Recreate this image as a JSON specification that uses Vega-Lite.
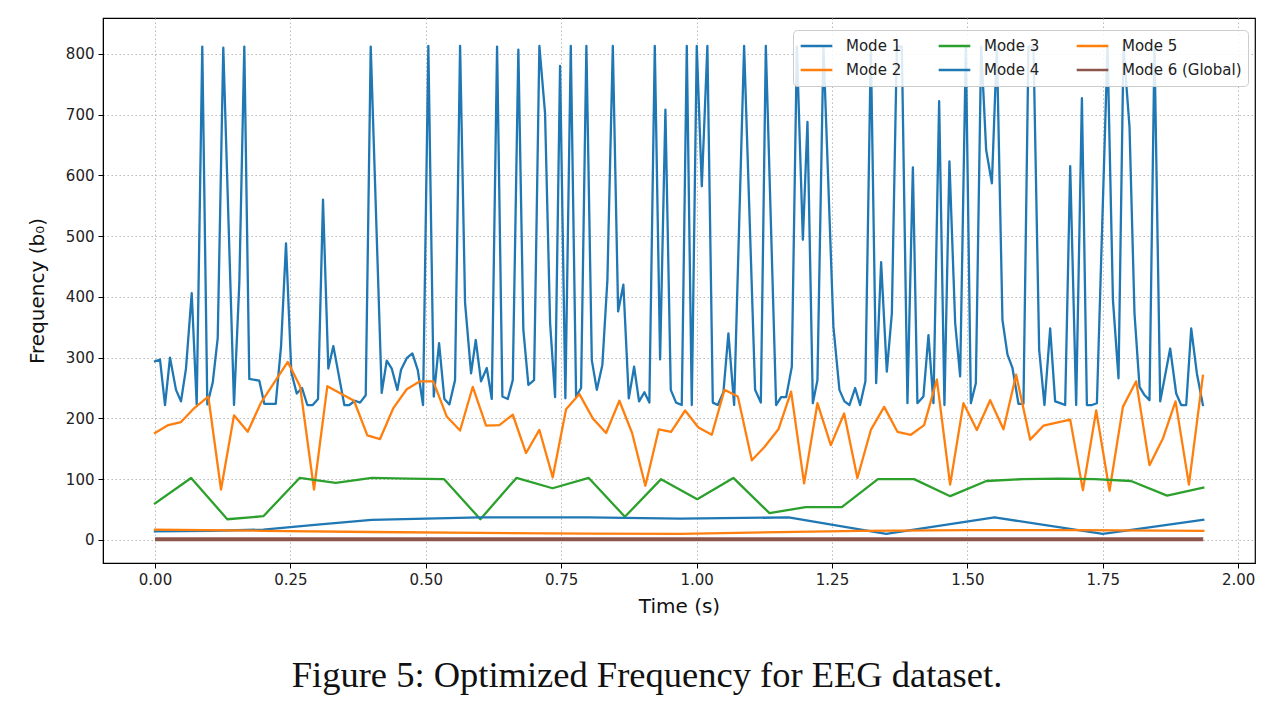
{
  "$schema": "https://vega.github.io/schema/vega-lite/v6.json",
  "width": 1152,
  "height": 545,
  "autosize": {"type": "none"},
  "padding": {"left": 103, "top": 18, "right": 22, "bottom": 142},
  "background": "white",
  "title": {
    "text": "Figure 5: Optimized Frequency for EEG dataset.",
    "orient": "bottom",
    "anchor": "middle",
    "frame": "group",
    "dx": -32,
    "offset": 42,
    "font": "Liberation Serif",
    "fontSize": 36.5,
    "fontWeight": "normal",
    "color": "#111111"
  },
  "config": {
    "view": {"stroke": "#000000", "strokeWidth": 1.2},
    "axis": {
      "labelFont": "DejaVu Sans",
      "labelFontSize": 15,
      "labelColor": "#222222",
      "titleFont": "DejaVu Sans",
      "titleFontSize": 20,
      "titleFontWeight": "normal",
      "titleColor": "#111111",
      "domainColor": "#000000",
      "tickColor": "#000000",
      "tickSize": 5,
      "labelPadding": 4,
      "gridColor": "#bbbbbb",
      "gridDash": [1.5, 2.5],
      "gridWidth": 1
    },
    "legend": {
      "orient": "none",
      "legendX": 690,
      "legendY": 12,
      "direction": "horizontal",
      "columns": 3,
      "fillColor": "rgba(255,255,255,0.85)",
      "strokeColor": "#cccccc",
      "cornerRadius": 4,
      "padding": 6,
      "labelFont": "DejaVu Sans",
      "labelFontSize": 15,
      "labelColor": "#222222",
      "labelOffset": 12,
      "symbolType": "stroke",
      "symbolSize": 1000,
      "symbolStrokeWidth": 2.4,
      "columnPadding": 35,
      "rowPadding": 4,
      "clipHeight": 20
    }
  },
  "data": {
    "values": [
      {"m": "Mode 1", "t": 0.0, "f": 294},
      {"m": "Mode 1", "t": 0.0092, "f": 297},
      {"m": "Mode 1", "t": 0.0185, "f": 222},
      {"m": "Mode 1", "t": 0.0277, "f": 300},
      {"m": "Mode 1", "t": 0.0388, "f": 247},
      {"m": "Mode 1", "t": 0.048, "f": 228},
      {"m": "Mode 1", "t": 0.0572, "f": 282},
      {"m": "Mode 1", "t": 0.0678, "f": 406},
      {"m": "Mode 1", "t": 0.077, "f": 223},
      {"m": "Mode 1", "t": 0.0873, "f": 812},
      {"m": "Mode 1", "t": 0.0966, "f": 223},
      {"m": "Mode 1", "t": 0.1066, "f": 259},
      {"m": "Mode 1", "t": 0.1158, "f": 332},
      {"m": "Mode 1", "t": 0.1261, "f": 810},
      {"m": "Mode 1", "t": 0.1459, "f": 222},
      {"m": "Mode 1", "t": 0.1557, "f": 423},
      {"m": "Mode 1", "t": 0.1649, "f": 812},
      {"m": "Mode 1", "t": 0.1741, "f": 265},
      {"m": "Mode 1", "t": 0.1926, "f": 262},
      {"m": "Mode 1", "t": 0.2018, "f": 224},
      {"m": "Mode 1", "t": 0.2229, "f": 224},
      {"m": "Mode 1", "t": 0.2327, "f": 318},
      {"m": "Mode 1", "t": 0.2419, "f": 488},
      {"m": "Mode 1", "t": 0.2517, "f": 276},
      {"m": "Mode 1", "t": 0.2617, "f": 241},
      {"m": "Mode 1", "t": 0.2715, "f": 250},
      {"m": "Mode 1", "t": 0.2813, "f": 222},
      {"m": "Mode 1", "t": 0.2912, "f": 222},
      {"m": "Mode 1", "t": 0.301, "f": 232},
      {"m": "Mode 1", "t": 0.3102, "f": 560},
      {"m": "Mode 1", "t": 0.32, "f": 282},
      {"m": "Mode 1", "t": 0.3293, "f": 319},
      {"m": "Mode 1", "t": 0.3496, "f": 222},
      {"m": "Mode 1", "t": 0.3588, "f": 222},
      {"m": "Mode 1", "t": 0.3693, "f": 229},
      {"m": "Mode 1", "t": 0.3786, "f": 226},
      {"m": "Mode 1", "t": 0.3891, "f": 238},
      {"m": "Mode 1", "t": 0.3983, "f": 812},
      {"m": "Mode 1", "t": 0.4186, "f": 242},
      {"m": "Mode 1", "t": 0.4279, "f": 295},
      {"m": "Mode 1", "t": 0.4371, "f": 282},
      {"m": "Mode 1", "t": 0.4475, "f": 247},
      {"m": "Mode 1", "t": 0.4543, "f": 280},
      {"m": "Mode 1", "t": 0.4648, "f": 299},
      {"m": "Mode 1", "t": 0.4752, "f": 307},
      {"m": "Mode 1", "t": 0.4851, "f": 280},
      {"m": "Mode 1", "t": 0.4949, "f": 222},
      {"m": "Mode 1", "t": 0.5047, "f": 813},
      {"m": "Mode 1", "t": 0.5147, "f": 236},
      {"m": "Mode 1", "t": 0.5245, "f": 324},
      {"m": "Mode 1", "t": 0.5343, "f": 232},
      {"m": "Mode 1", "t": 0.5435, "f": 223},
      {"m": "Mode 1", "t": 0.554, "f": 263},
      {"m": "Mode 1", "t": 0.5633, "f": 813},
      {"m": "Mode 1", "t": 0.5725, "f": 390},
      {"m": "Mode 1", "t": 0.5836, "f": 274},
      {"m": "Mode 1", "t": 0.5922, "f": 329},
      {"m": "Mode 1", "t": 0.602, "f": 261},
      {"m": "Mode 1", "t": 0.6126, "f": 283},
      {"m": "Mode 1", "t": 0.6218, "f": 232},
      {"m": "Mode 1", "t": 0.6316, "f": 812},
      {"m": "Mode 1", "t": 0.6414, "f": 236},
      {"m": "Mode 1", "t": 0.6513, "f": 232},
      {"m": "Mode 1", "t": 0.6606, "f": 263},
      {"m": "Mode 1", "t": 0.6709, "f": 807},
      {"m": "Mode 1", "t": 0.6801, "f": 346},
      {"m": "Mode 1", "t": 0.6894, "f": 255},
      {"m": "Mode 1", "t": 0.6999, "f": 263},
      {"m": "Mode 1", "t": 0.7097, "f": 813},
      {"m": "Mode 1", "t": 0.7202, "f": 702},
      {"m": "Mode 1", "t": 0.7295, "f": 357},
      {"m": "Mode 1", "t": 0.7387, "f": 235},
      {"m": "Mode 1", "t": 0.7479, "f": 780},
      {"m": "Mode 1", "t": 0.7577, "f": 233},
      {"m": "Mode 1", "t": 0.7677, "f": 813},
      {"m": "Mode 1", "t": 0.7775, "f": 236},
      {"m": "Mode 1", "t": 0.7867, "f": 250},
      {"m": "Mode 1", "t": 0.7965, "f": 813},
      {"m": "Mode 1", "t": 0.8065, "f": 296},
      {"m": "Mode 1", "t": 0.8158, "f": 247},
      {"m": "Mode 1", "t": 0.826, "f": 288},
      {"m": "Mode 1", "t": 0.8353, "f": 428},
      {"m": "Mode 1", "t": 0.8453, "f": 813},
      {"m": "Mode 1", "t": 0.8551, "f": 376},
      {"m": "Mode 1", "t": 0.8648, "f": 420},
      {"m": "Mode 1", "t": 0.8748, "f": 233},
      {"m": "Mode 1", "t": 0.8846, "f": 285},
      {"m": "Mode 1", "t": 0.8938, "f": 228},
      {"m": "Mode 1", "t": 0.9036, "f": 243},
      {"m": "Mode 1", "t": 0.9128, "f": 226},
      {"m": "Mode 1", "t": 0.9228, "f": 813},
      {"m": "Mode 1", "t": 0.9326, "f": 297},
      {"m": "Mode 1", "t": 0.9424, "f": 708},
      {"m": "Mode 1", "t": 0.9523, "f": 247},
      {"m": "Mode 1", "t": 0.9621, "f": 226},
      {"m": "Mode 1", "t": 0.9726, "f": 222},
      {"m": "Mode 1", "t": 0.9819, "f": 813},
      {"m": "Mode 1", "t": 0.9911, "f": 222},
      {"m": "Mode 1", "t": 1.0003, "f": 813},
      {"m": "Mode 1", "t": 1.0096, "f": 582},
      {"m": "Mode 1", "t": 1.0199, "f": 813},
      {"m": "Mode 1", "t": 1.0299, "f": 226},
      {"m": "Mode 1", "t": 1.0391, "f": 222},
      {"m": "Mode 1", "t": 1.0495, "f": 243},
      {"m": "Mode 1", "t": 1.0587, "f": 340},
      {"m": "Mode 1", "t": 1.0693, "f": 222},
      {"m": "Mode 1", "t": 1.0877, "f": 813},
      {"m": "Mode 1", "t": 1.108, "f": 247},
      {"m": "Mode 1", "t": 1.1186, "f": 226},
      {"m": "Mode 1", "t": 1.1278, "f": 813},
      {"m": "Mode 1", "t": 1.1468, "f": 222},
      {"m": "Mode 1", "t": 1.156, "f": 235},
      {"m": "Mode 1", "t": 1.1653, "f": 235},
      {"m": "Mode 1", "t": 1.1758, "f": 285},
      {"m": "Mode 1", "t": 1.1851, "f": 812},
      {"m": "Mode 1", "t": 1.1962, "f": 494},
      {"m": "Mode 1", "t": 1.2047, "f": 688},
      {"m": "Mode 1", "t": 1.2146, "f": 225},
      {"m": "Mode 1", "t": 1.2231, "f": 263},
      {"m": "Mode 1", "t": 1.2342, "f": 812},
      {"m": "Mode 1", "t": 1.2526, "f": 351},
      {"m": "Mode 1", "t": 1.2637, "f": 247},
      {"m": "Mode 1", "t": 1.273, "f": 228},
      {"m": "Mode 1", "t": 1.2822, "f": 222},
      {"m": "Mode 1", "t": 1.2927, "f": 250},
      {"m": "Mode 1", "t": 1.3019, "f": 222},
      {"m": "Mode 1", "t": 1.3117, "f": 261},
      {"m": "Mode 1", "t": 1.3217, "f": 812},
      {"m": "Mode 1", "t": 1.3315, "f": 258},
      {"m": "Mode 1", "t": 1.3407, "f": 457},
      {"m": "Mode 1", "t": 1.3512, "f": 277},
      {"m": "Mode 1", "t": 1.3605, "f": 373},
      {"m": "Mode 1", "t": 1.3697, "f": 812},
      {"m": "Mode 1", "t": 1.3789, "f": 812},
      {"m": "Mode 1", "t": 1.3893, "f": 225},
      {"m": "Mode 1", "t": 1.3993, "f": 613},
      {"m": "Mode 1", "t": 1.4077, "f": 225},
      {"m": "Mode 1", "t": 1.4188, "f": 236},
      {"m": "Mode 1", "t": 1.4281, "f": 337},
      {"m": "Mode 1", "t": 1.4373, "f": 225},
      {"m": "Mode 1", "t": 1.4478, "f": 722},
      {"m": "Mode 1", "t": 1.4576, "f": 222},
      {"m": "Mode 1", "t": 1.4668, "f": 623},
      {"m": "Mode 1", "t": 1.4774, "f": 357},
      {"m": "Mode 1", "t": 1.4866, "f": 269},
      {"m": "Mode 1", "t": 1.4971, "f": 812},
      {"m": "Mode 1", "t": 1.5064, "f": 225},
      {"m": "Mode 1", "t": 1.5156, "f": 258},
      {"m": "Mode 1", "t": 1.5254, "f": 812},
      {"m": "Mode 1", "t": 1.5346, "f": 642},
      {"m": "Mode 1", "t": 1.5452, "f": 587},
      {"m": "Mode 1", "t": 1.5544, "f": 812},
      {"m": "Mode 1", "t": 1.5647, "f": 362},
      {"m": "Mode 1", "t": 1.574, "f": 305},
      {"m": "Mode 1", "t": 1.5832, "f": 283},
      {"m": "Mode 1", "t": 1.5943, "f": 224},
      {"m": "Mode 1", "t": 1.6035, "f": 224},
      {"m": "Mode 1", "t": 1.6127, "f": 812},
      {"m": "Mode 1", "t": 1.622, "f": 812},
      {"m": "Mode 1", "t": 1.6325, "f": 313},
      {"m": "Mode 1", "t": 1.6423, "f": 222},
      {"m": "Mode 1", "t": 1.6528, "f": 348},
      {"m": "Mode 1", "t": 1.662, "f": 228},
      {"m": "Mode 1", "t": 1.6713, "f": 225},
      {"m": "Mode 1", "t": 1.6805, "f": 222},
      {"m": "Mode 1", "t": 1.6898, "f": 615},
      {"m": "Mode 1", "t": 1.7008, "f": 222},
      {"m": "Mode 1", "t": 1.7114, "f": 727},
      {"m": "Mode 1", "t": 1.7206, "f": 222},
      {"m": "Mode 1", "t": 1.7299, "f": 222},
      {"m": "Mode 1", "t": 1.7391, "f": 225},
      {"m": "Mode 1", "t": 1.7587, "f": 812},
      {"m": "Mode 1", "t": 1.7687, "f": 395},
      {"m": "Mode 1", "t": 1.779, "f": 266},
      {"m": "Mode 1", "t": 1.7882, "f": 812},
      {"m": "Mode 1", "t": 1.7993, "f": 680},
      {"m": "Mode 1", "t": 1.8085, "f": 373},
      {"m": "Mode 1", "t": 1.8178, "f": 252},
      {"m": "Mode 1", "t": 1.8264, "f": 239},
      {"m": "Mode 1", "t": 1.8362, "f": 230},
      {"m": "Mode 1", "t": 1.8454, "f": 812},
      {"m": "Mode 1", "t": 1.856, "f": 228},
      {"m": "Mode 1", "t": 1.8744, "f": 315},
      {"m": "Mode 1", "t": 1.8855, "f": 241},
      {"m": "Mode 1", "t": 1.8947, "f": 222},
      {"m": "Mode 1", "t": 1.904, "f": 222},
      {"m": "Mode 1", "t": 1.9132, "f": 348},
      {"m": "Mode 1", "t": 1.9237, "f": 274},
      {"m": "Mode 1", "t": 1.9348, "f": 222},

      {"m": "Mode 2", "t": 0.0, "f": 176},
      {"m": "Mode 2", "t": 0.0246, "f": 189},
      {"m": "Mode 2", "t": 0.048, "f": 194},
      {"m": "Mode 2", "t": 0.0726, "f": 217},
      {"m": "Mode 2", "t": 0.0984, "f": 236},
      {"m": "Mode 2", "t": 0.1219, "f": 83},
      {"m": "Mode 2", "t": 0.1459, "f": 205},
      {"m": "Mode 2", "t": 0.1712, "f": 178},
      {"m": "Mode 2", "t": 0.1958, "f": 226},
      {"m": "Mode 2", "t": 0.2451, "f": 293},
      {"m": "Mode 2", "t": 0.2678, "f": 253},
      {"m": "Mode 2", "t": 0.2936, "f": 83},
      {"m": "Mode 2", "t": 0.3182, "f": 253},
      {"m": "Mode 2", "t": 0.3675, "f": 229},
      {"m": "Mode 2", "t": 0.3921, "f": 172},
      {"m": "Mode 2", "t": 0.4155, "f": 166},
      {"m": "Mode 2", "t": 0.4401, "f": 217},
      {"m": "Mode 2", "t": 0.4648, "f": 248},
      {"m": "Mode 2", "t": 0.4894, "f": 261},
      {"m": "Mode 2", "t": 0.5139, "f": 261},
      {"m": "Mode 2", "t": 0.5387, "f": 203},
      {"m": "Mode 2", "t": 0.5633, "f": 180},
      {"m": "Mode 2", "t": 0.5867, "f": 252},
      {"m": "Mode 2", "t": 0.6113, "f": 188},
      {"m": "Mode 2", "t": 0.6358, "f": 189},
      {"m": "Mode 2", "t": 0.6606, "f": 206},
      {"m": "Mode 2", "t": 0.6851, "f": 143},
      {"m": "Mode 2", "t": 0.7097, "f": 181},
      {"m": "Mode 2", "t": 0.7344, "f": 103},
      {"m": "Mode 2", "t": 0.759, "f": 215},
      {"m": "Mode 2", "t": 0.7836, "f": 240},
      {"m": "Mode 2", "t": 0.8083, "f": 200},
      {"m": "Mode 2", "t": 0.8329, "f": 176},
      {"m": "Mode 2", "t": 0.8574, "f": 229},
      {"m": "Mode 2", "t": 0.8809, "f": 176},
      {"m": "Mode 2", "t": 0.9054, "f": 89},
      {"m": "Mode 2", "t": 0.9302, "f": 182},
      {"m": "Mode 2", "t": 0.9529, "f": 178},
      {"m": "Mode 2", "t": 0.9788, "f": 213},
      {"m": "Mode 2", "t": 1.0033, "f": 185},
      {"m": "Mode 2", "t": 1.0281, "f": 173},
      {"m": "Mode 2", "t": 1.0514, "f": 247},
      {"m": "Mode 2", "t": 1.0761, "f": 236},
      {"m": "Mode 2", "t": 1.102, "f": 131},
      {"m": "Mode 2", "t": 1.1252, "f": 153},
      {"m": "Mode 2", "t": 1.1511, "f": 182},
      {"m": "Mode 2", "t": 1.1745, "f": 244},
      {"m": "Mode 2", "t": 1.1985, "f": 93},
      {"m": "Mode 2", "t": 1.2231, "f": 225},
      {"m": "Mode 2", "t": 1.2478, "f": 156},
      {"m": "Mode 2", "t": 1.2724, "f": 208},
      {"m": "Mode 2", "t": 1.2969, "f": 102},
      {"m": "Mode 2", "t": 1.3217, "f": 181},
      {"m": "Mode 2", "t": 1.3463, "f": 219},
      {"m": "Mode 2", "t": 1.3708, "f": 178},
      {"m": "Mode 2", "t": 1.3956, "f": 173},
      {"m": "Mode 2", "t": 1.4201, "f": 189},
      {"m": "Mode 2", "t": 1.4436, "f": 264},
      {"m": "Mode 2", "t": 1.4681, "f": 91},
      {"m": "Mode 2", "t": 1.4927, "f": 225},
      {"m": "Mode 2", "t": 1.5175, "f": 181},
      {"m": "Mode 2", "t": 1.542, "f": 230},
      {"m": "Mode 2", "t": 1.5666, "f": 182},
      {"m": "Mode 2", "t": 1.59, "f": 272},
      {"m": "Mode 2", "t": 1.6159, "f": 165},
      {"m": "Mode 2", "t": 1.6404, "f": 188},
      {"m": "Mode 2", "t": 1.6651, "f": 193},
      {"m": "Mode 2", "t": 1.6898, "f": 198},
      {"m": "Mode 2", "t": 1.7132, "f": 82},
      {"m": "Mode 2", "t": 1.7378, "f": 213},
      {"m": "Mode 2", "t": 1.7624, "f": 81},
      {"m": "Mode 2", "t": 1.7871, "f": 219},
      {"m": "Mode 2", "t": 1.8116, "f": 261},
      {"m": "Mode 2", "t": 1.8362, "f": 123},
      {"m": "Mode 2", "t": 1.861, "f": 167},
      {"m": "Mode 2", "t": 1.8843, "f": 228},
      {"m": "Mode 2", "t": 1.909, "f": 91},
      {"m": "Mode 2", "t": 1.9348, "f": 270},

      {"m": "Mode 3", "t": 0.0, "f": 60},
      {"m": "Mode 3", "t": 0.0667, "f": 102},
      {"m": "Mode 3", "t": 0.1335, "f": 34},
      {"m": "Mode 3", "t": 0.2002, "f": 39},
      {"m": "Mode 3", "t": 0.267, "f": 102},
      {"m": "Mode 3", "t": 0.3337, "f": 94},
      {"m": "Mode 3", "t": 0.4004, "f": 102},
      {"m": "Mode 3", "t": 0.4672, "f": 101},
      {"m": "Mode 3", "t": 0.5339, "f": 100},
      {"m": "Mode 3", "t": 0.6007, "f": 34},
      {"m": "Mode 3", "t": 0.6674, "f": 102},
      {"m": "Mode 3", "t": 0.7341, "f": 85},
      {"m": "Mode 3", "t": 0.8009, "f": 102},
      {"m": "Mode 3", "t": 0.8676, "f": 38},
      {"m": "Mode 3", "t": 0.9344, "f": 100},
      {"m": "Mode 3", "t": 1.0011, "f": 67},
      {"m": "Mode 3", "t": 1.0678, "f": 102},
      {"m": "Mode 3", "t": 1.1346, "f": 44},
      {"m": "Mode 3", "t": 1.2013, "f": 54},
      {"m": "Mode 3", "t": 1.2681, "f": 54},
      {"m": "Mode 3", "t": 1.3348, "f": 100},
      {"m": "Mode 3", "t": 1.4015, "f": 100},
      {"m": "Mode 3", "t": 1.4683, "f": 72},
      {"m": "Mode 3", "t": 1.535, "f": 97},
      {"m": "Mode 3", "t": 1.6018, "f": 100},
      {"m": "Mode 3", "t": 1.6685, "f": 101},
      {"m": "Mode 3", "t": 1.7352, "f": 100},
      {"m": "Mode 3", "t": 1.802, "f": 97},
      {"m": "Mode 3", "t": 1.8687, "f": 73},
      {"m": "Mode 3", "t": 1.9355, "f": 86},

      {"m": "Mode 4", "t": 0.0, "f": 14},
      {"m": "Mode 4", "t": 0.1, "f": 15},
      {"m": "Mode 4", "t": 0.2, "f": 17},
      {"m": "Mode 4", "t": 0.3, "f": 25},
      {"m": "Mode 4", "t": 0.4, "f": 33},
      {"m": "Mode 4", "t": 0.6, "f": 37},
      {"m": "Mode 4", "t": 0.8, "f": 37},
      {"m": "Mode 4", "t": 0.97, "f": 35},
      {"m": "Mode 4", "t": 1.17, "f": 37},
      {"m": "Mode 4", "t": 1.35, "f": 10},
      {"m": "Mode 4", "t": 1.55, "f": 37},
      {"m": "Mode 4", "t": 1.75, "f": 10},
      {"m": "Mode 4", "t": 1.9355, "f": 33},

      {"m": "Mode 5", "t": 0.0, "f": 17},
      {"m": "Mode 5", "t": 0.2, "f": 15},
      {"m": "Mode 5", "t": 0.4, "f": 13},
      {"m": "Mode 5", "t": 0.6, "f": 11.5},
      {"m": "Mode 5", "t": 0.8, "f": 10.5},
      {"m": "Mode 5", "t": 0.97, "f": 10},
      {"m": "Mode 5", "t": 1.1, "f": 12},
      {"m": "Mode 5", "t": 1.3, "f": 15},
      {"m": "Mode 5", "t": 1.5, "f": 16},
      {"m": "Mode 5", "t": 1.7, "f": 16},
      {"m": "Mode 5", "t": 1.9355, "f": 15},

      {"m": "Mode 6 (Global)", "t": 0.0, "f": 1},
      {"m": "Mode 6 (Global)", "t": 1.9355, "f": 1}
    ]
  },
  "encoding": {
    "x": {
      "field": "t",
      "type": "quantitative",
      "scale": {"domain": [-0.096, 2.031], "nice": false, "zero": false},
      "axis": {"values": [0, 0.25, 0.5, 0.75, 1, 1.25, 1.5, 1.75, 2], "format": ".2f", "title": "Time (s)", "titlePadding": 9}
    },
    "y": {
      "field": "f",
      "type": "quantitative",
      "scale": {"domain": [-38, 859], "nice": false, "zero": false},
      "axis": {"values": [0, 100, 200, 300, 400, 500, 600, 700, 800], "title": "Frequency (b₀)", "titlePadding": 18}
    },
    "color": {
      "field": "m",
      "type": "nominal",
      "scale": {
        "domain": ["Mode 1", "Mode 3", "Mode 5", "Mode 2", "Mode 4", "Mode 6 (Global)"],
        "range": ["#1f77b4", "#2ca02c", "#ff7f0e", "#ff7f0e", "#1f77b4", "#8c564b"]
      },
      "legend": {
        "title": null,
        "symbolSize": 1000,
        "symbolStrokeWidth": 2.4,
        "columnPadding": 35,
        "labelOffset": 12
      }
    }
  },
  "layer": [
    {
      "transform": [{"filter": "datum.m !== 'Mode 6 (Global)'"}],
      "mark": {"type": "line", "strokeCap": "square", "strokeJoin": "round", "strokeWidth": 2.3}
    },
    {
      "transform": [{"filter": "datum.m === 'Mode 6 (Global)'"}],
      "mark": {"type": "line", "strokeCap": "butt", "strokeWidth": 4}
    }
  ]
}
